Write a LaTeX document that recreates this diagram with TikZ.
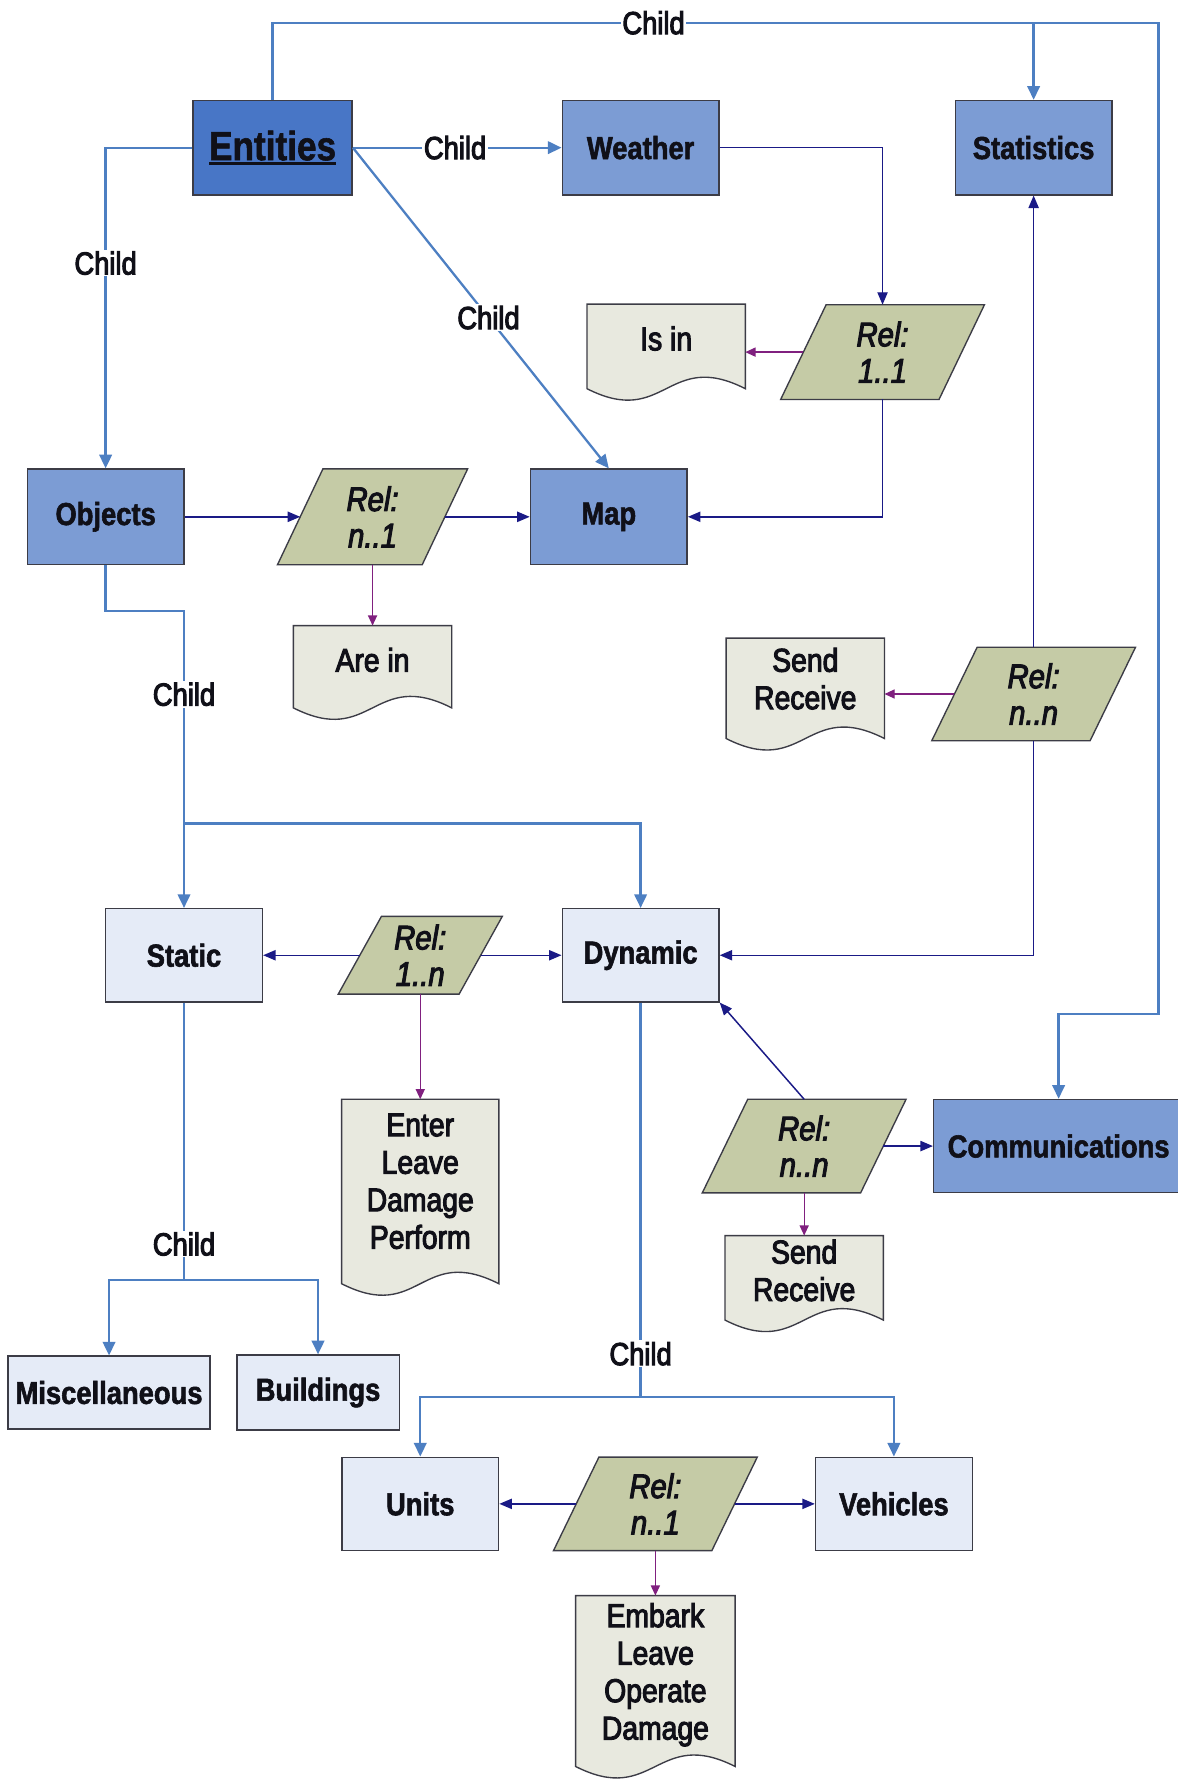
\documentclass[tikz,border=0pt]{standalone}
\usepackage{fontspec}
\setmainfont{Liberation Sans}[FakeStretch=0.86]
\usetikzlibrary{arrows.meta,calc}

\definecolor{entfill}{HTML}{4876C6}
\definecolor{midfill}{HTML}{7C9CD4}
\definecolor{lightfill}{HTML}{E5EBF7}
\definecolor{relcol}{HTML}{C5CBA6}
\definecolor{doccol}{HTML}{E8E9DF}
\definecolor{boxline}{HTML}{3C3C46}
\definecolor{childcol}{HTML}{4D7FC2}
\definecolor{navyline}{HTML}{1A1A86}
\definecolor{purpleline}{HTML}{80207F}
\definecolor{txt}{HTML}{101018}

% heavier glyphs: fill and stroke the text outlines
\newcommand\strokeon[1]{\special{pdf:literal direct 2 Tr #1 w}}
\newcommand\strokeoff{\special{pdf:literal direct 0 Tr}}

\newcommand\boxfnt{\fontsize{28}{33}\selectfont\bfseries}
\newcommand\entfnt{\fontsize{36}{40}\selectfont\bfseries}
\newcommand\medfnt{\fontsize{28}{33}\selectfont}
\newcommand\docfnt{\fontsize{29}{33}\selectfont}
\newcommand\relfnt{\itshape\fontsize{30}{32}\selectfont}
\newcommand\ulword[1]{\setbox0=\hbox{#1}\rlap{\rule[-4pt]{\wd0}{2.2pt}}\box0}

\pgfdeclarelayer{background}
\pgfsetlayers{background,main}

\begin{document}
\begin{tikzpicture}[x=1pt,y=-1pt,
  heavy/.style={execute at begin node={\strokeon{#1}}, execute at end node={\strokeoff}},
  box/.style={rectangle, draw=boxline, line width=1.3pt, minimum width=138pt,
    minimum height=83pt, inner sep=0pt, font=\boxfnt, text=txt, heavy=0.5},
  entbox/.style={box, fill=entfill, minimum width=140pt, font=\entfnt},
  midbox/.style={box, fill=midfill},
  lightbox/.style={box, fill=lightfill},
  relnode/.style={rectangle, minimum width=139pt, minimum height=83pt,
    inner sep=0pt, align=center, font=\relfnt, text=txt, heavy=0.9},
  relfill/.style={draw=boxline, line width=1.2pt, fill=relcol},
  docnode/.style={rectangle, minimum width=139pt, minimum height=84pt, inner sep=0pt},
  doctext/.style={align=center, font=\docfnt, text=txt, inner sep=0pt, heavy=0.9},
  docfill/.style={draw=boxline, line width=1.2pt, fill=doccol},
  childline/.style={draw=childcol, line width=2pt, -{Triangle[length=12pt,width=11pt]}},
  relline/.style={draw=navyline, line width=1.3pt, -{Triangle[length=11pt,width=9pt]}},
  docline/.style={draw=purpleline, line width=1.2pt, -{Triangle[length=9pt,width=8pt]}},
  childlbl/.style={fill=white, inner sep=1.5pt, font=\medfnt, text=txt, heavy=0.9}
]
\useasboundingbox (0,0) rectangle (1037,1568);

% ---- entity boxes ----
\node[entbox] (ent) at (240,130) {\ulword{Entities}};
\node[midbox] (wea) at (564,130) {Weather};
\node[midbox] (stat) at (910,130) {Statistics};
\node[midbox, minimum height=84pt] (obj) at (93,455) {Objects};
\node[midbox, minimum height=84pt] (map) at (536,455) {Map};
\node[lightbox, minimum height=82pt] (stc) at (162,841) {Static};
\node[lightbox, minimum height=82pt] (dyn) at (564,841) {Dynamic};
\node[midbox, minimum width=220pt, minimum height=82pt] (comm) at (932,1009) {Communications};
\node[lightbox, minimum width=178pt, minimum height=64pt] (misc) at (96,1226) {Miscellaneous};
\node[lightbox, minimum width=143pt, minimum height=66pt] (bld) at (280,1226) {Buildings};
\node[lightbox, minimum height=82pt] (units) at (370,1324) {Units};
\node[lightbox, minimum height=82pt] (veh) at (787,1324) {Vehicles};

% ---- relation parallelograms (outline drawn on the background layer) ----
\node[relnode] (r11) at (777,310) {Rel:\\1..1};
\node[relnode, minimum width=127pt, minimum height=84pt] (rn1a) at (328,455) {Rel:\\n..1};
\node[relnode, minimum height=82pt] (rnnA) at (910,611) {Rel:\\n..n};
\node[relnode, minimum width=106pt, minimum height=68pt] (r1n) at (370,841) {Rel:\\1..n};
\node[relnode, minimum height=82pt] (rnnB) at (708,1009) {Rel:\\n..n};
\node[relnode, minimum height=82pt] (rn1b) at (577,1324) {Rel:\\n..1};

% ---- document shapes with wavy bottom ----
\node[docnode] (isin) at (586.5,310) {};
\node[doctext] (isinT) at ($(isin)+(0,-12)$) {Is in};
\node[docnode, minimum height=82pt] (arein) at (328,592) {};
\node[doctext] (areinT) at ($(arein)+(0,-11)$) {Are in};
\node[docnode, minimum height=98pt] (sr1) at (709,611) {};
\node[doctext] (sr1T) at ($(sr1)+(0,-13.5)$) {Send\\Receive};
\node[docnode, minimum width=138pt, minimum height=172pt] (elpd) at (370,1054) {};
\node[doctext] (elpdT) at ($(elpd)+(0,-14)$) {Enter\\Leave\\Damage\\Perform};
\node[docnode] (sr2) at (708,1130) {};
\node[doctext] (sr2T) at ($(sr2)+(0,-11.5)$) {Send\\Receive};
\node[docnode, minimum width=140pt, minimum height=160pt] (emb) at (577,1485) {};
\node[doctext] (embT) at ($(emb)+(0,-10.5)$) {Embark\\Leave\\Operate\\Damage};

\begin{pgfonlayer}{background}
  \fill[white] (0,0) rectangle (1037,1568);
  \foreach \n/\s in {r11/20, rn1a/20, rnnA/20, r1n/19, rnnB/20, rn1b/20}
    \draw[relfill] ($(\n.north west)+(\s,0)$) -- ($(\n.north east)+(\s,0)$)
      -- ($(\n.south east)+(-\s,0)$) -- ($(\n.south west)+(-\s,0)$) -- cycle;
  \foreach \n in {isin, arein, sr1, elpd, sr2, emb}
    \draw[docfill] (\n.north west) -- (\n.north east) -- ($(\n.south east)+(0,-10)$)
      .. controls +(-69,-35) and +(69,35) .. ($(\n.south west)+(0,-10)$) -- cycle;
\end{pgfonlayer}

% ---- junction points of the child tree ----
\coordinate (cTopL) at (ent.north |- 0,20);
\coordinate (cTopR) at (1020,20);
\coordinate (cStat) at (stat.north |- cTopL);
\coordinate (cCommR) at (1020,893);
\coordinate (cCommL) at (comm.north |- cCommR);
\coordinate (cObj1) at (obj.south |- 0,538);
\coordinate (cObj2) at (stc.north |- cObj1);
\coordinate (cSplitA) at (stc.north |- 0,725);
\coordinate (cStc) at (stc.south |- 0,1127);
\coordinate (cDyn) at (dyn.south |- 0,1230);

% ---- child links ----
\draw[childline] (ent.north) -- (cTopL) -- node[childlbl, pos=0.43] (lTop) {Child} (cTopR)
  -- (cCommR) -- (cCommL) -- (comm.north);
\draw[childline] (cStat) -- (stat.north);
\draw[childline] (ent.west) -| node[childlbl, pos=0.68] (lObj) {Child} (obj.north);
\draw[childline] (ent.east) -- node[childlbl, pos=0.49] (lWea) {Child} (wea.west);
\draw[childline] (ent.east) -- node[childlbl, pos=0.53] (lMap) {Child} (map.north);
\draw[childline] (obj.south) -- (cObj1) -- (cObj2) -- node[childlbl, pos=0.28] (lStc) {Child} (stc.north);
\draw[childline] (cSplitA) -| (dyn.north);
\draw[childline, -] (stc.south) -- node[childlbl, pos=0.87] (lMisc) {Child} (cStc);
\draw[childline] (cStc) -| (misc.north);
\draw[childline] (cStc) -| (bld.north);
\draw[childline, -] (dyn.south) -- node[childlbl, pos=0.89] (lUnits) {Child} (cDyn);
\draw[childline] (cDyn) -| (units.north);
\draw[childline] (cDyn) -| (veh.north);

% ---- relation links ----
\draw[relline] (wea.east) -| (r11.north);
\draw[relline] (r11.south) |- (map.east);
\draw[relline] (obj.east) -- (rn1a.west);
\draw[relline] (rn1a.east) -- (map.west);
\draw[relline] (rnnA.north) -- (stat.south);
\draw[relline] (rnnA.south) |- (dyn.east);
\draw[relline] (r1n.west) -- (stc.east);
\draw[relline] (r1n.east) -- (dyn.west);
\draw[relline] (rnnB.north) -- (dyn.south east);
\draw[relline] (rnnB.east) -- (comm.west);
\draw[relline] (rn1b.west) -- (units.east);
\draw[relline] (rn1b.east) -- (veh.west);

% ---- relation descriptions ----
\draw[docline] (r11.west) -- (isin.east);
\draw[docline] (rn1a.south) -- (arein.north);
\draw[docline] (rnnA.west) -- (sr1.east);
\draw[docline] (r1n.south) -- (elpd.north);
\draw[docline] (rnnB.south) -- (sr2.north);
\draw[docline] (rn1b.south) -- (emb.north);
\end{tikzpicture}
\end{document}
